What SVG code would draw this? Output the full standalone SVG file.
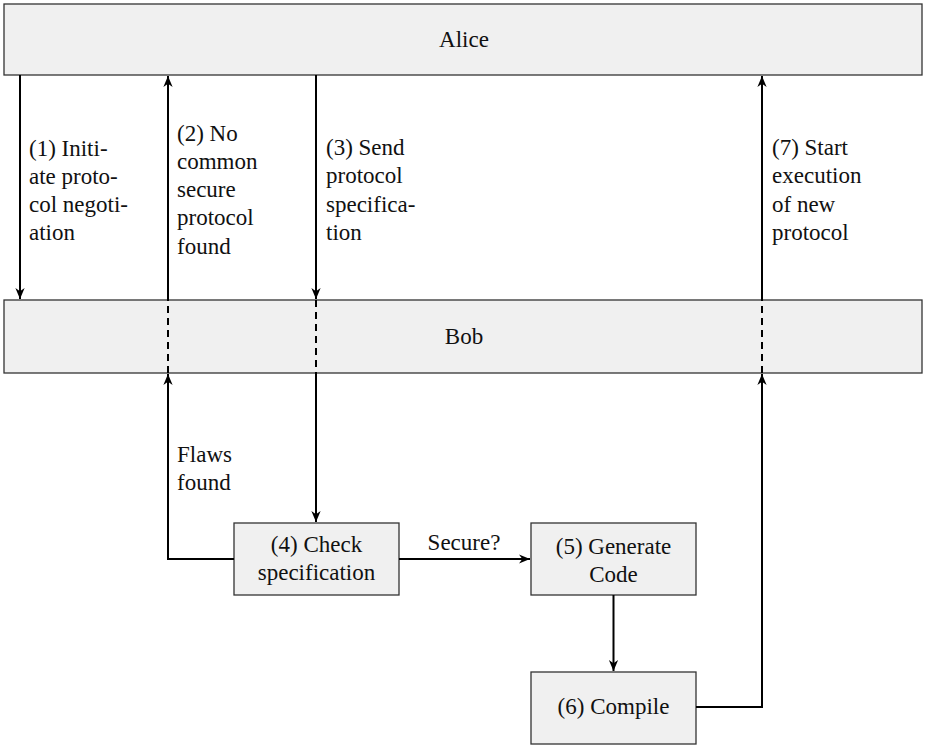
<svg xmlns="http://www.w3.org/2000/svg" width="926" height="745" viewBox="0 0 926 745">
<style>
  .box { fill: #f0f0f0; stroke: #333; stroke-width: 1.3; }
  .t { font-family: "Liberation Serif", "Times New Roman", Tinos, "DejaVu Serif", "Noto Serif", FreeSerif, Times, serif; font-size: 23px; fill: #111; }
  .c { text-anchor: middle; }
  .ln { fill: none; stroke: #000; stroke-width: 2; }
  .dash { fill: none; stroke: #000; stroke-width: 2; stroke-dasharray: 7 5; }
</style>
<defs>
  <marker id="ah" viewBox="0 0 10 10" refX="10" refY="5" markerWidth="11" markerHeight="11" markerUnits="userSpaceOnUse" orient="auto">
    <path d="M0,0.8 L10,5 L0,9.2 L3,5 Z" fill="#000"/>
  </marker>
</defs>
<rect width="926" height="745" fill="#fff"/>
<g id="alice">
  <rect class="box" x="4" y="4" width="918" height="71"/>
  <text class="t c" x="464" y="47" font-family="Liberation Serif, serif">Alice</text>
</g>
<g id="bob">
  <rect class="box" x="4" y="300" width="918" height="73"/>
  <text class="t c" x="464" y="344">Bob</text>
</g>
<g id="check">
  <rect class="box" x="234" y="523" width="165" height="72"/>
  <text class="t c" x="316.5" y="552">(4) Check</text>
  <text class="t c" x="316.5" y="580">specification</text>
</g>
<g id="generate">
  <rect class="box" x="531" y="523" width="165" height="72"/>
  <text class="t c" x="613.5" y="554">(5) Generate</text>
  <text class="t c" x="613.5" y="582">Code</text>
</g>
<g id="compile">
  <rect class="box" x="531" y="672" width="165" height="72"/>
  <text class="t c" x="613.5" y="714">(6) Compile</text>
</g>
<g id="connectors">
  <line class="ln" x1="20" y1="75" x2="20" y2="299" marker-end="url(#ah)"/>
  <polyline class="ln" points="234,559 168,559 168,374" marker-end="url(#ah)"/>
  <line class="dash" x1="168" y1="373" x2="168" y2="300"/>
  <line class="ln" x1="168" y1="300" x2="168" y2="76" marker-end="url(#ah)"/>
  <line class="ln" x1="316" y1="75" x2="316" y2="299" marker-end="url(#ah)"/>
  <line class="dash" x1="316" y1="300" x2="316" y2="373"/>
  <line class="ln" x1="316" y1="373" x2="316" y2="522" marker-end="url(#ah)"/>
  <line class="ln" x1="399" y1="559" x2="530" y2="559" marker-end="url(#ah)"/>
  <line class="ln" x1="613.5" y1="595" x2="613.5" y2="671" marker-end="url(#ah)"/>
  <polyline class="ln" points="696,707 762,707 762,374" marker-end="url(#ah)"/>
  <line class="dash" x1="762" y1="373" x2="762" y2="300"/>
  <line class="ln" x1="762" y1="300" x2="762" y2="76" marker-end="url(#ah)"/>
</g>
<g id="labels">
  <text class="t" x="29" y="156">(1) Initi-</text>
  <text class="t" x="29" y="184">ate proto-</text>
  <text class="t" x="29" y="212">col negoti-</text>
  <text class="t" x="29" y="240">ation</text>

  <text class="t" x="177" y="141">(2) No</text>
  <text class="t" x="177" y="169">common</text>
  <text class="t" x="177" y="197">secure</text>
  <text class="t" x="177" y="225">protocol</text>
  <text class="t" x="177" y="254">found</text>

  <text class="t" x="326" y="155">(3) Send</text>
  <text class="t" x="326" y="183">protocol</text>
  <text class="t" x="326" y="212">specifica-</text>
  <text class="t" x="326" y="240">tion</text>

  <text class="t" x="772" y="155">(7) Start</text>
  <text class="t" x="772" y="183">execution</text>
  <text class="t" x="772" y="212">of new</text>
  <text class="t" x="772" y="240">protocol</text>

  <text class="t" x="177" y="462">Flaws</text>
  <text class="t" x="177" y="490">found</text>

  <text class="t c" x="464" y="550">Secure?</text>
</g>
</svg>
